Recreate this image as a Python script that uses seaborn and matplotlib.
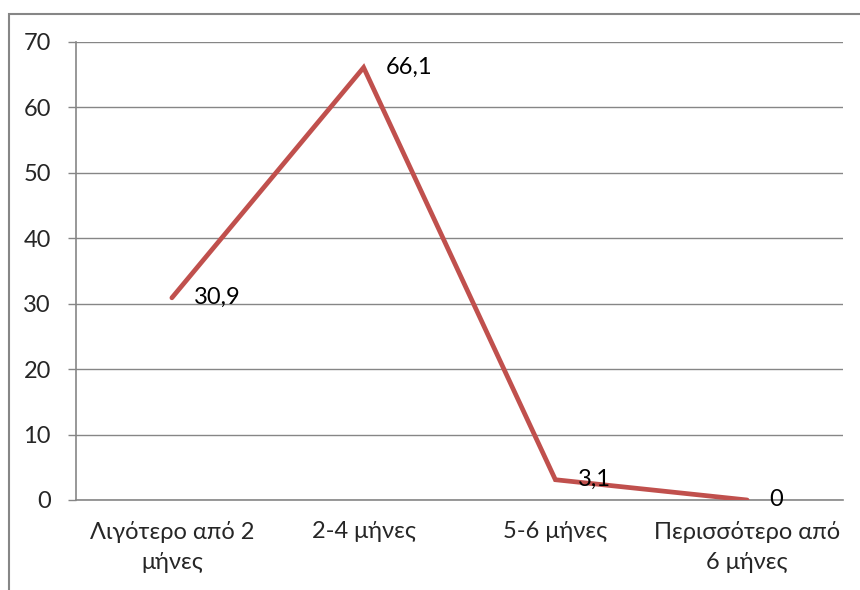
import seaborn as sns
import pandas as pd
import matplotlib.pyplot as plt
from matplotlib.patches import Rectangle

# -------------------------------------------------
# Data
# -------------------------------------------------
categories = ["Λιγότερο από 2\nμήνες", "2-4 μήνες", "5-6 μήνες", "Περισσότερο από\n6 μήνες"]
values = [30.9, 66.1, 3.1, 0]
value_labels = ["30,9", "66,1", "3,1", "0"]

df = pd.DataFrame({"cat": categories, "val": values})

sns.set_style("white")
plt.rcParams["font.family"] = ["Lato", "DejaVu Sans"]

grey = "#868686"
red = "#C0504D"
fsize = 17

fig = plt.figure(figsize=(8.6, 5.9), dpi=100)
ax = fig.add_axes([76 / 860, 90 / 590, 767 / 860, 458 / 590])

sns.lineplot(data=df, x="cat", y="val", sort=False, color=red, linewidth=3.4, ax=ax,
             solid_capstyle="round", solid_joinstyle="miter", zorder=3)

# data labels
for i, (v, lab) in enumerate(zip(values, value_labels)):
    ax.annotate(lab, (i, v), xytext=(16, 0), textcoords="offset points",
                ha="left", va="center", fontsize=fsize, color="black", zorder=4)

ax.set_xlim(-0.5, 3.5)
ax.set_ylim(0, 70)
ax.set_yticks(range(0, 71, 10))
ax.yaxis.grid(True, color=grey, linewidth=1)
ax.set_axisbelow(True)
ax.set_xlabel("")
ax.set_ylabel("")

ax.set_xticks(range(len(categories)))
ax.set_xticklabels(categories, fontsize=fsize, linespacing=1.55)
ax.set_xticks([-0.5, 0.5, 1.5, 2.5, 3.5], minor=True)
ax.tick_params(axis="x", which="major", length=0, pad=15)
ax.tick_params(axis="x", which="minor", length=5, width=1, color=grey, direction="out")
ax.tick_params(axis="y", length=6, width=1, color=grey, direction="out", pad=12,
               labelsize=fsize, left=True)

for s in ["top", "right"]:
    ax.spines[s].set_visible(False)
for s in ["left", "bottom"]:
    ax.spines[s].set_color(grey)
    ax.spines[s].set_linewidth(1.2)

# outer chart-area border (top and left visible)
top = 1 - 14 / 590
fig.patches.append(Rectangle((9 / 860, -0.2), 1.2, top + 0.2,
                             transform=fig.transFigure, fill=False,
                             edgecolor=grey, linewidth=1.5, zorder=0))

fig.savefig("out.png", dpi=100)
